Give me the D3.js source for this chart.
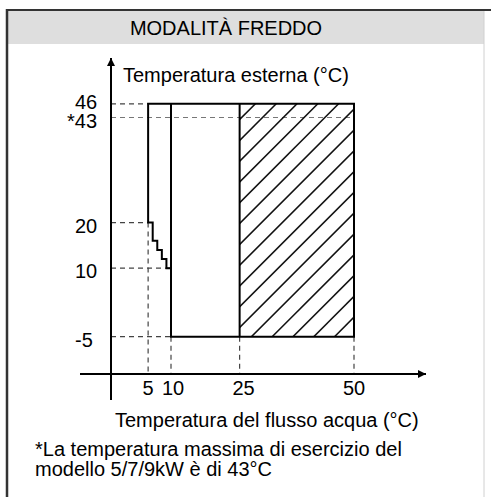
<!DOCTYPE html>
<html>
<head>
<meta charset="utf-8">
<script src="https://cdn.jsdelivr.net/npm/d3@7"></script>
<style>
  body { margin: 0; background: #fff; }
  text { font-family: "Liberation Sans", Arial, sans-serif; font-size: 20px; fill: #000; }
</style>
</head>
<body>
<svg id="chart"></svg>
<script>
let width = 491,
  height = 497;

// chart data
const title = "MODALITÀ FREDDO";
const yTitle = "Temperatura esterna (°C)";
const xTitle = "Temperatura del flusso acqua (°C)";
const notes = ["*La temperatura massima di esercizio del", "modello 5/7/9kW è di 43°C"];

const xTicks = [5, 10, 25, 50];
const yTicks = [46, 43, 20, 10, -5];
const yTickLabels = ["46", "*43", "20", "10", "-5"];

// staircase limit between 5°C and 10°C water
const stairX = [5, 6, 6, 7, 7, 8, 8, 9, 9, 10];
const stairY = [20, 20, 16, 16, 14, 14, 12, 12, 10, 10];

const tMax = 46,
  tMin = -5;
const hatchRange = [25, 50];

// dashed guides: [value, where it stops]
const guideH = [[46, 5], [43, 50], [20, 5], [10, 10], [-5, 10]];
const guideV = [[5, 20], [10, -5], [25, -5], [50, -5]];

let svg = d3.select("#chart").attr("width", width).attr("height", height);

// scales
let x = d3.scaleLinear().domain([10, 50]).range([171, 354]);
let y = d3.scaleLinear().domain([-5, 46]).range([336.7, 103.8]);

let axisX = 111,
  axisY = 374;

// Frame + header
svg.append("rect")
  .attr("x", 7).attr("y", 10).attr("width", 477).attr("height", 34)
  .attr("fill", "#dedede");
svg.append("line")
  .attr("x1", 484).attr("x2", 484).attr("y1", 10).attr("y2", height)
  .attr("stroke", "#d0d0d0").attr("stroke-width", 1);
svg.append("line")
  .attr("x1", 6).attr("x2", width).attr("y1", 10).attr("y2", 10)
  .attr("stroke", "#333").attr("stroke-width", 2);
svg.append("line")
  .attr("x1", 7).attr("x2", 7).attr("y1", 9).attr("y2", height)
  .attr("stroke", "#333").attr("stroke-width", 2.5);

svg.append("text")
  .attr("x", 226).attr("y", 35)
  .attr("text-anchor", "middle")
  .text(title);

// Dashed guides
let guides = svg.append("g")
  .attr("stroke", "#444")
  .attr("stroke-width", 1.2)
  .attr("stroke-dasharray", "5,4");

guides.selectAll(".gh")
  .data(guideH)
  .enter()
  .append("line")
  .attr("x1", axisX)
  .attr("x2", (d) => x(d[1]))
  .attr("y1", (d) => y(d[0]))
  .attr("y2", (d) => y(d[0]))
  .attr("stroke", (d) => (d[0] == 43 ? "#777" : "#444"));

guides.selectAll(".gv")
  .data(guideV)
  .enter()
  .append("line")
  .attr("x1", (d) => x(d[0]))
  .attr("x2", (d) => x(d[0]))
  .attr("y1", (d) => y(d[1]))
  .attr("y2", axisY);

// Hatched area
let hx0 = x(hatchRange[0]),
  hx1 = x(hatchRange[1]),
  hy0 = y(tMax),
  hy1 = y(tMin),
  hh = hy1 - hy0;

svg.append("clipPath")
  .attr("id", "hatchClip")
  .append("rect")
  .attr("x", hx0).attr("y", hy0)
  .attr("width", hx1 - hx0).attr("height", hh);

let step = 20.8;
let offsets = d3.range(hx0 + 11.7 - Math.ceil(hh / step) * step, hx1, step);

svg.append("g")
  .attr("clip-path", "url(#hatchClip)")
  .selectAll("line")
  .data(offsets)
  .enter()
  .append("line")
  .attr("x1", (d) => d)
  .attr("y1", hy1)
  .attr("x2", (d) => d + hh)
  .attr("y2", hy0)
  .attr("stroke", "#111")
  .attr("stroke-width", 1.6);

// Outline of the operating range
let outline = [[5, tMax], [50, tMax], [50, tMin], [10, tMin]];
stairX.slice().reverse().forEach((v, i) => {
  outline.push([v, stairY[stairY.length - 1 - i]]);
});
let line = d3.line().x((d) => x(d[0])).y((d) => y(d[1]));

svg.append("path")
  .attr("d", line(outline) + "Z")
  .attr("fill", "none")
  .attr("stroke", "#000")
  .attr("stroke-width", 2)
  .attr("stroke-linejoin", "miter");

[10, 25].forEach((v) => {
  svg.append("line")
    .attr("x1", x(v)).attr("x2", x(v))
    .attr("y1", y(tMax)).attr("y2", y(v == 10 ? 10 : tMin))
    .attr("stroke", "#000")
    .attr("stroke-width", 2);
});

// Axes with arrows
let defs = svg.append("defs");
defs.append("marker")
  .attr("id", "arrow")
  .attr("viewBox", "0 -5 10 10")
  .attr("refX", 10)
  .attr("refY", 0)
  .attr("markerWidth", 10)
  .attr("markerHeight", 8)
  .attr("markerUnits", "userSpaceOnUse")
  .attr("orient", "auto")
  .append("path")
  .attr("d", "M0,-5L10,0L0,5Z")
  .attr("fill", "#000");

svg.append("line")
  .attr("x1", axisX).attr("x2", axisX)
  .attr("y1", 400).attr("y2", 58)
  .attr("stroke", "#000").attr("stroke-width", 2)
  .attr("marker-end", "url(#arrow)");

svg.append("line")
  .attr("x1", 80).attr("x2", 426)
  .attr("y1", axisY).attr("y2", axisY)
  .attr("stroke", "#000").attr("stroke-width", 2)
  .attr("marker-end", "url(#arrow)");

// Tick labels
svg.selectAll(".ylab")
  .data(yTicks)
  .enter()
  .append("text")
  .attr("x", (d) => (d == 43 ? 97 : 75))
  .attr("text-anchor", (d) => (d == 43 ? "end" : "start"))
  .attr("y", (d) => y(d) + (d == 46 ? 5 : 10))
  .text((d, i) => yTickLabels[i]);

svg.selectAll(".xlab")
  .data(xTicks)
  .enter()
  .append("text")
  .attr("x", (d) => x(d) + (d == 25 ? 4 : d == 10 ? 2 : 0))
  .attr("y", 395)
  .attr("text-anchor", "middle")
  .text((d) => d);

// Axis titles
svg.append("text").attr("x", 123).attr("y", 82).text(yTitle);
svg.append("text").attr("x", 115).attr("y", 427).text(xTitle);

// Footnote
svg.selectAll(".note")
  .data(notes)
  .enter()
  .append("text")
  .attr("x", 35)
  .attr("y", (d, i) => 456 + i * 20)
  .text((d) => d);
</script>
</body>
</html>
